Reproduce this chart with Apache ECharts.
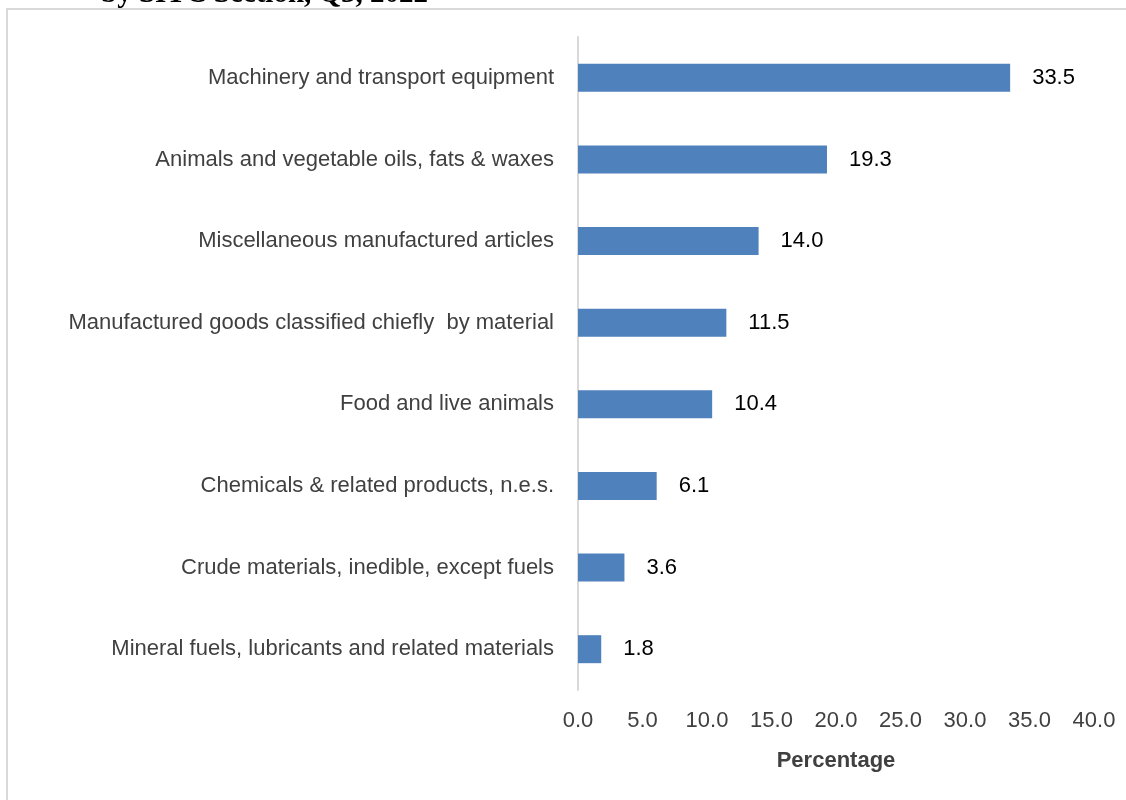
<!DOCTYPE html>
<html><head><meta charset="utf-8">
<script src="https://cdn.jsdelivr.net/npm/echarts@6/dist/echarts.min.js"></script>
<style>html,body{margin:0;padding:0;background:#fff}#c{width:1126px;height:800px}</style>
</head><body><div id="c"></div>
<script>
const categories = [
  "Mineral fuels, lubricants and related materials",
  "Crude materials, inedible, except fuels",
  "Chemicals & related products, n.e.s.",
  "Food and live animals",
  "Manufactured goods classified chiefly  by material",
  "Miscellaneous manufactured articles",
  "Animals and vegetable oils, fats & waxes",
  "Machinery and transport equipment"
];
const values = [1.8, 3.6, 6.1, 10.4, 11.5, 14.0, 19.3, 33.5];
const axisName = "Percentage";
const titleText = "by SITC Section, Q3, 2022";

const font = '"Liberation Sans Narrow", "Arial Narrow", "Liberation Sans", sans-serif';
const chart = echarts.init(document.getElementById('c'));
chart.setOption({
  animation: false,
  backgroundColor: '#fff',
  graphic: [
    {type: 'rect', shape: {x: 7, y: 9, width: 1200, height: 900},
     style: {fill: 'none', stroke: '#d9d9d9', lineWidth: 2}, silent: true},
    {type: 'text', left: 101, top: -20,
     style: {text: titleText, font: 'bold 29px "Liberation Serif", "Times New Roman", serif', fill: '#000'}}
  ],
  grid: {left: 578, right: 32, top: 37, bottom: 110, containLabel: false},
  xAxis: {
    type: 'value', min: 0, max: 40, interval: 5,
    axisLine: {show: false}, axisTick: {show: false}, splitLine: {show: false},
    axisLabel: {formatter: v => v.toFixed(1), color: '#404040', fontFamily: font, fontSize: 22, margin: 20},
    name: axisName, nameLocation: 'middle', nameGap: 60,
    nameTextStyle: {fontFamily: font, fontSize: 22, fontWeight: 'bold', color: '#404040'}
  },
  yAxis: {
    type: 'category', data: categories,
    axisLine: {show: true, lineStyle: {color: '#d9d9d9', width: 2}},
    axisTick: {show: false},
    axisLabel: {color: '#404040', fontFamily: font, fontSize: 22, margin: 24}
  },
  series: [{
    type: 'bar', data: values, barWidth: 28,
    itemStyle: {color: '#4f81bd'},
    label: {show: true, position: 'right', distance: 22, formatter: p => p.value.toFixed(1),
            color: '#000', fontFamily: font, fontSize: 22}
  }]
});
</script></body></html>
